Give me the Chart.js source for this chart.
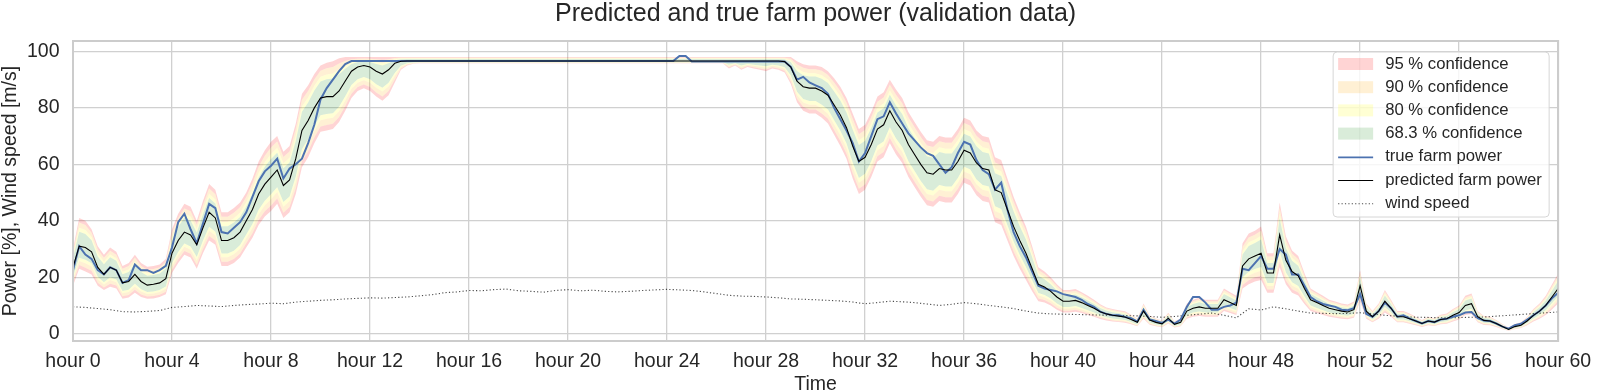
<!DOCTYPE html>
<html>
<head>
<meta charset="utf-8">
<script src="https://cdn.jsdelivr.net/npm/chart.js@4/dist/chart.umd.min.js"></script>
<style>
html,body{margin:0;padding:0;background:#ffffff;}
#wrap{width:1600px;height:392px;}
</style>
</head>
<body>
<div id="wrap"><canvas id="c" width="1600" height="392"></canvas></div>
<script>
// ---- time axis (hours), one reading every quarter hour ----
const hours = Array.from({length: 241}, (_, i) => i / 4);
const windHours = Array.from({length: 121}, (_, i) => i / 2);
const tickHours = [0, 4, 8, 12, 16, 20, 24, 28, 32, 36, 40, 44, 48, 52, 56, 60];
const tickLabels = tickHours.map(h => 'hour ' + h);
const yTicks = [0, 20, 40, 60, 80, 100];

// ---- true farm power [%] ----
const truePower = [
  22.5, 31, 28, 26.5,
  22.5, 21, 23.5, 22.5,
  18, 19, 24.5, 22.5,
  22.5, 21.5, 22.5, 24,
  30.5, 39.5, 42.5, 37,
  32, 39, 46, 44.5,
  36, 35.5, 37.5, 39.5,
  43, 48.5, 54, 57.5,
  59.5, 62, 55, 58.5,
  60, 62, 67.5, 74,
  83, 87, 90, 93,
  95.5, 96.6, 96.6, 96.6,
  96.6, 96.6, 96.6, 96.6,
  96.6, 96.6, 96.6, 96.6,
  96.6, 96.6, 96.6, 96.6,
  96.6, 96.6, 96.6, 96.6,
  96.6, 96.6, 96.6, 96.6,
  96.6, 96.6, 96.6, 96.6,
  96.6, 96.6, 96.6, 96.6,
  96.6, 96.6, 96.6, 96.6,
  96.6, 96.6, 96.6, 96.6,
  96.6, 96.6, 96.6, 96.6,
  96.6, 96.6, 96.6, 96.6,
  96.6, 96.6, 96.6, 96.6,
  96.6, 96.6, 98.4, 98.4,
  96.4, 96.4, 96.4, 96.4,
  96.4, 96.4, 96.4, 96.4,
  96.4, 96.4, 96.4, 96.4,
  96.4, 96.4, 96.4, 96.4,
  94.5, 90, 91, 89,
  88, 87, 85, 80,
  76, 72, 67.5, 61,
  64, 70, 76, 77,
  82, 78, 74.5, 71,
  68.5, 66, 64, 63,
  60, 57, 59, 64,
  68, 67, 61.5, 58,
  56.5, 51, 53.5, 44,
  36, 31, 27, 22,
  17, 16, 15.5, 15,
  14, 13.5, 13, 12,
  10.5, 9.5, 7.8, 7,
  6.5, 6.5, 5.9, 5.5,
  4.3, 8.5, 5, 4.5,
  3.8, 5, 3.6, 5,
  9.5, 13, 13, 11,
  8.5, 8.5, 9.5, 10,
  11, 23, 22.5, 25,
  27.5, 23, 23, 30,
  28, 21, 21, 17,
  13, 11.5, 10.5, 10,
  9.5, 8.5, 8.3, 9,
  14, 7, 6, 8,
  11, 9, 6, 6.5,
  5.3, 4.5, 3.6, 4.5,
  4.1, 5, 5.3, 6,
  6.5, 7.5, 7.7, 5.5,
  4.7, 4.5, 3.6, 2.5,
  1.8, 3, 3.5, 5,
  6.5, 8, 10, 12.5,
  14.5
];

// ---- predicted farm power [%] ----
const predPower = [
  23.5, 31, 30.5, 29,
  23.5, 21, 23.5, 22.5,
  18, 18.5, 21, 18.5,
  17.2, 17.5, 18, 19.5,
  28.5, 33, 36, 35,
  31.5, 37.5, 43, 41,
  33, 33, 34, 36,
  40, 44, 49.5, 53,
  55.5, 58, 52.5, 54.5,
  62, 72, 75.5, 80,
  83.5, 84, 84, 86,
  89.5, 93, 94.5, 95,
  94.5, 93, 92, 93.5,
  95.8, 96.5, 96.6, 96.6,
  96.6, 96.6, 96.6, 96.6,
  96.6, 96.6, 96.6, 96.6,
  96.6, 96.6, 96.6, 96.6,
  96.6, 96.6, 96.6, 96.6,
  96.6, 96.6, 96.6, 96.6,
  96.6, 96.6, 96.6, 96.6,
  96.6, 96.6, 96.6, 96.6,
  96.6, 96.6, 96.6, 96.6,
  96.6, 96.6, 96.6, 96.6,
  96.6, 96.6, 96.6, 96.6,
  96.6, 96.6, 96.6, 96.6,
  96.6, 96.6, 96.6, 96.6,
  96.6, 96.6, 96.6, 96.6,
  96.6, 96.6, 96.6, 96.6,
  96.6, 96.6, 96.6, 96.4,
  94.5, 89.5, 87.5, 87,
  87, 86, 84.5, 81,
  77.5, 73, 66.5, 61,
  62.5, 67, 72.5, 74,
  79, 75, 72, 67,
  63.5, 60, 57, 56.5,
  58.5, 58, 58, 61,
  65, 64, 60.5, 58.5,
  58, 51, 50, 44,
  38, 33, 28.5, 23,
  17.5, 16.5, 15, 13,
  11.5, 11.5, 11.8, 11,
  10, 9, 7.8, 7,
  6.5, 6.2, 5.9, 5,
  4, 8, 4.8, 4,
  3.5, 5.5, 3.3, 4,
  8, 9, 9.5, 9,
  9, 9, 12, 11,
  10, 24, 26.5, 27.5,
  28.5, 21.5, 21.5, 35,
  26, 22, 20.5, 16,
  12, 11, 10, 9,
  8.5, 8, 7.7, 8.5,
  17, 8, 6, 8,
  11.5, 9, 6, 6,
  5.3, 4.5, 3.6, 4.5,
  4.1, 5, 5.3, 6.5,
  7.5, 10, 10.6, 6,
  4.7, 4.5, 3.6, 2.5,
  1.5, 2.5, 3, 4.5,
  6.5, 8, 10, 13,
  16
];

// ---- 95 % confidence band, lower and upper edge [%] ----
const lower95 = [
  17, 23, 22, 21,
  17, 15.5, 16.6, 16,
  12.4, 12.8, 14.5, 13,
  12.4, 12.5, 13, 14,
  21.5, 25, 28, 27,
  23, 28.5, 33, 31.5,
  24, 24, 25, 27,
  30.5, 34, 38.5, 41.5,
  43.5, 46, 41, 43,
  49.5, 59, 62.5, 67.5,
  71.5, 72, 72.5, 75,
  79, 83.5, 86, 87,
  86, 84, 82.5, 84.5,
  89, 93.5, 95, 95.6,
  95.8, 95.8, 95.8, 95.8,
  95.8, 95.8, 95.8, 95.8,
  95.8, 95.8, 95.8, 95.8,
  95.8, 95.8, 95.8, 95.8,
  95.8, 95.8, 95.8, 95.8,
  95.8, 95.8, 95.8, 95.8,
  95.8, 95.8, 95.8, 95.8,
  95.8, 95.8, 95.8, 95.8,
  95.8, 95.8, 95.8, 95.8,
  95.8, 95.8, 95.8, 95.8,
  95.8, 95.8, 95.8, 95.8,
  95.8, 95.8, 95.8, 95.8,
  95.8, 95.8, 94, 95,
  93.5, 94.5, 94, 93.5,
  93, 94, 93.5, 92.5,
  88.5, 82, 79, 78,
  78, 76.5, 74.5, 70.5,
  66.5, 62, 55, 49.5,
  51, 55.5, 61, 62.5,
  67.5, 63.5, 60.5, 55.5,
  52, 48.5, 45.5, 45,
  47, 46.5, 46.5, 49.5,
  53.5, 52.5, 49, 47,
  46.5, 39.5, 38.5, 33,
  27.5, 23, 19, 15,
  11.5, 11, 10, 8.5,
  7.5, 7.5, 7.8, 7.3,
  6.6, 6, 5.2, 4.7,
  4.3, 4.1, 3.9, 3.3,
  2.6, 5.3, 3.2, 2.6,
  2.3, 3.6, 2.2, 2.6,
  5.3, 6, 6.3, 6,
  6, 6, 8, 7.3,
  6.6, 16, 17.5, 18.5,
  19, 14.5, 14.5, 23.5,
  17.5, 14.5, 13.5, 10.5,
  8, 7.3, 6.6, 6,
  5.6, 5.3, 5.1, 5.6,
  11.5, 5.3, 4, 5.3,
  7.5, 6, 4, 4,
  3.5, 3, 2.4, 3,
  2.7, 3.3, 3.5, 4.3,
  5, 6.6, 7, 4,
  3.1, 3, 2.4, 1.6,
  1, 1.6, 2, 3,
  4.3, 5.3, 6.6, 8.6,
  10.7
];
const upper95 = [
  30, 41, 40, 37,
  31, 28, 30.5, 29,
  24, 25, 28, 25,
  23.7, 24, 24.5, 26.5,
  37, 42.5, 46, 45,
  40, 47, 53, 51,
  43, 43, 44.5, 46.5,
  50, 55, 61, 65,
  68, 70, 64.5, 66.5,
  74.5, 85, 88, 92,
  95, 96, 96.5, 97.6,
  98, 98, 98, 98,
  98, 98, 98, 98,
  98, 98, 98, 98,
  98, 98, 98, 98,
  98, 98, 98, 98,
  98, 98, 98, 98,
  98, 98, 98, 98,
  98, 98, 98, 98,
  98, 98, 98, 98,
  98, 98, 98, 98,
  98, 98, 98, 98,
  98, 98, 98, 98,
  98, 98, 98, 98,
  98, 98, 98, 98,
  98, 98, 98, 98,
  98, 98, 98, 98,
  98, 98, 98, 98,
  98, 98, 98, 98,
  98, 96.5, 95.5, 95,
  95, 94.5, 93, 90.5,
  87.5, 83.5, 78, 72.5,
  74, 78.5, 84, 85.5,
  90, 86.5, 83.5, 78.5,
  75, 71.5, 68.5, 68,
  70, 69.5, 69.5, 72.5,
  76.5, 75.5, 72, 70,
  69.5, 62.5, 61.5, 55,
  48.5, 43, 38, 31,
  23.5, 22, 20, 17.5,
  15.5, 15.5, 15.8, 14.7,
  13.4, 12, 10.4, 9.3,
  8.7, 8.3, 7.9, 6.7,
  5.4, 10.7, 6.4, 5.4,
  4.7, 7.4, 4.4, 5.4,
  10.7, 12, 12.7, 12,
  12, 12, 16, 14.7,
  13.4, 32, 35.5, 36.5,
  38, 28.5, 28.5, 46.5,
  34.5, 29.5, 27.5, 21.5,
  16, 14.7, 13.4, 12,
  11.4, 10.7, 10.3, 11.4,
  22.5, 10.7, 8, 10.7,
  15.5, 12, 8, 8,
  7.1, 6, 4.8, 6,
  5.5, 6.7, 7.1, 8.7,
  10, 13.4, 14.2, 8,
  6.3, 6, 4.8, 3.4,
  2.2, 3.4, 4, 6,
  8.7, 10.7, 13.4, 17.4,
  21.3
];

// ---- wind speed [m/s], one reading every half hour ----
const windSpeed = [
  9.5, 9.3, 8.9, 8.5, 7.8, 7.7, 7.9, 8.2, 9.3, 9.6,
  10, 9.8, 9.6, 10, 10.3, 10.5, 10.8, 10.6, 11.2, 11.5,
  11.8, 12, 12.3, 12.5, 12.7, 12.6, 12.8, 13, 13.4, 13.8,
  14.5, 14.8, 15.3, 15.2, 15.6, 15.8, 15.2, 15, 14.7, 15.3,
  15.6, 15.2, 15.4, 15, 14.8, 15, 15.3, 15.5, 15.7, 15.5,
  15.3, 14.8, 14.2, 13.6, 13.3, 13.2, 13, 12.7, 12.3, 12.2,
  12, 11.8, 11.6, 11.2, 10.6, 11, 11.5, 11.3, 11, 10.5,
  10, 10.4, 11, 10.6, 10, 9.5, 8.9, 8, 7.3, 7,
  6.9, 6.8, 6.7, 6.6, 6.5, 6.4, 6.3, 6.1, 5.8, 6.1,
  6.5, 6.9, 7.3, 6.5, 5.6, 8.8, 8.4, 9.5, 8.8, 8,
  7.3, 7.2, 7.1, 7.2, 7.4, 7, 6.5, 6.2, 5.9, 5.8,
  5.7, 5.6, 5.7, 5.8, 5.9, 6.2, 6.5, 6.8, 7.1, 7.4,
  7.7
];

// ---- confidence levels (two-sided normal quantiles) ----
const bandLabels = ['95 % confidence', '90 % confidence', '80 % confidence', '68.3 % confidence'];
const bandZ = [1.96, 1.645, 1.2816, 1.0];
const bandColors = ['rgba(255,0,0,0.17)', 'rgba(255,165,0,0.17)', 'rgba(255,255,0,0.17)', 'rgba(0,128,0,0.15)'];

const BLUE = '#4c72b0';
const WIND = 'rgba(30,30,30,0.8)';
const TXT = '#262626';
const FONT = "'Liberation Sans', Arial, Helvetica, sans-serif";

const pts = (xs, ys) => xs.map((x, i) => ({x: x, y: ys[i]}));
const edge = (arr, z) => predPower.map((p, i) => p + (arr[i] - p) * z / bandZ[0]);

const lowers = bandZ.map(z => edge(lower95, z));
const uppers = bandZ.map(z => edge(upper95, z));

const base = {pointRadius: 0, pointHoverRadius: 0, tension: 0, borderWidth: 0, borderColor: 'rgba(0,0,0,0)'};
const datasets = [
  {label: 'predicted farm power', data: pts(hours, predPower), borderColor: '#000000', borderWidth: 1.1, pointRadius: 0, tension: 0, fill: false},
  {label: 'true farm power', data: pts(hours, truePower), borderColor: BLUE, borderWidth: 2, pointRadius: 0, tension: 0, fill: false},
  {label: 'wind speed', data: pts(windHours, windSpeed), borderColor: WIND, borderWidth: 1.1, borderDash: [1.2, 2.2], pointRadius: 0, tension: 0, fill: false},
  Object.assign({label: 'lo95', data: pts(hours, lowers[0]), fill: false}, base),
  Object.assign({label: 'lo90', data: pts(hours, lowers[1]), fill: '-1', backgroundColor: bandColors[0]}, base),
  Object.assign({label: 'lo80', data: pts(hours, lowers[2]), fill: '-1', backgroundColor: bandColors[1]}, base),
  Object.assign({label: 'lo68', data: pts(hours, lowers[3]), fill: '-1', backgroundColor: bandColors[2]}, base),
  Object.assign({label: 'hi68', data: pts(hours, uppers[3]), fill: '-1', backgroundColor: bandColors[3]}, base),
  Object.assign({label: 'hi80', data: pts(hours, uppers[2]), fill: '-1', backgroundColor: bandColors[2]}, base),
  Object.assign({label: 'hi90', data: pts(hours, uppers[1]), fill: '-1', backgroundColor: bandColors[1]}, base),
  Object.assign({label: 'hi95', data: pts(hours, uppers[0]), fill: '-1', backgroundColor: bandColors[0]}, base)
];

const legendItems = [
  {kind: 'patch', label: bandLabels[0], color: bandColors[0]},
  {kind: 'patch', label: bandLabels[1], color: bandColors[1]},
  {kind: 'patch', label: bandLabels[2], color: bandColors[2]},
  {kind: 'patch', label: bandLabels[3], color: bandColors[3]},
  {kind: 'line', label: 'true farm power', color: BLUE, width: 1.7},
  {kind: 'line', label: 'predicted farm power', color: '#000000', width: 1.1},
  {kind: 'dots', label: 'wind speed', color: WIND, width: 1.1}
];

const framePlugin = {
  id: 'frameAndLegend',
  afterDatasetsDraw(chart) {
    const ctx = chart.ctx, a = chart.chartArea;
    ctx.save();
    ctx.strokeStyle = '#cccccc';
    ctx.lineWidth = 2;
    ctx.strokeRect(a.left, a.top, a.right - a.left, a.bottom - a.top);

    // legend box (inside upper right of the plot)
    const bx = a.right - 225, by = a.top + 11, bw = 216, bh = 165, r = 4;
    ctx.beginPath();
    ctx.moveTo(bx + r, by);
    ctx.arcTo(bx + bw, by, bx + bw, by + bh, r);
    ctx.arcTo(bx + bw, by + bh, bx, by + bh, r);
    ctx.arcTo(bx, by + bh, bx, by, r);
    ctx.arcTo(bx, by, bx + bw, by, r);
    ctx.closePath();
    ctx.fillStyle = 'rgba(255,255,255,0.8)';
    ctx.fill();
    ctx.strokeStyle = '#d6d6d6';
    ctx.lineWidth = 1;
    ctx.stroke();

    ctx.font = '16.7px ' + FONT;
    ctx.textBaseline = 'middle';
    ctx.textAlign = 'left';
    legendItems.forEach((it, i) => {
      const y = by + 12 + i * 23.2;
      const x0 = bx + 5, x1 = bx + 40;
      if (it.kind === 'patch') {
        ctx.fillStyle = it.color;
        ctx.fillRect(x0, y - 6, x1 - x0, 12);
      } else {
        ctx.beginPath();
        ctx.setLineDash(it.kind === 'dots' ? [1.2, 2.2] : []);
        ctx.strokeStyle = it.color;
        ctx.lineWidth = it.width;
        ctx.moveTo(x0, y + 0.5);
        ctx.lineTo(x1, y + 0.5);
        ctx.stroke();
        ctx.setLineDash([]);
      }
      ctx.fillStyle = TXT;
      ctx.fillText(it.label, bx + 52, y);
    });
    ctx.restore();
  }
};

new Chart(document.getElementById('c'), {
  type: 'line',
  data: {datasets: datasets},
  plugins: [framePlugin],
  options: {
    responsive: false,
    animation: false,
    devicePixelRatio: 1,
    layout: {padding: {left: 0, right: 36, top: 0, bottom: 0}},
    plugins: {
      legend: {display: false},
      tooltip: {enabled: false},
      title: {
        display: true,
        fullSize: false,
        text: 'Predicted and true farm power (validation data)',
        color: TXT,
        font: {family: FONT, size: 25, weight: 'normal', lineHeight: 1},
        padding: {top: 1.5, bottom: 14.5}
      }
    },
    scales: {
      x: {
        type: 'linear',
        min: 0, max: 60,
        afterFit(s) { s.height = 51; },
        afterBuildTicks(s) { s.ticks = tickHours.map(v => ({value: v})); },
        grid: {color: '#d0d0d0', lineWidth: 1.3, drawTicks: false},
        border: {display: false},
        ticks: {
          callback: (v) => tickLabels[tickHours.indexOf(v)],
          maxRotation: 0, autoSkip: false, padding: 8.8,
          color: TXT, font: {family: FONT, size: 19.5}
        },
        title: {display: true, text: 'Time', color: TXT, font: {family: FONT, size: 19.5, lineHeight: 1}, padding: {top: 0, bottom: -2}}
      },
      y: {
        type: 'linear',
        min: -2.6, max: 103.7,
        afterFit(s) { s.width = 73; },
        afterBuildTicks(s) { s.ticks = yTicks.map(v => ({value: v})); },
        grid: {color: '#d0d0d0', lineWidth: 1.3, drawTicks: false},
        border: {display: false},
        ticks: {padding: 13.5, color: TXT, font: {family: FONT, size: 19.5}},
        title: {display: true, text: 'Power [%], Wind speed [m/s]', color: TXT, font: {family: FONT, size: 19.5, lineHeight: 1}, padding: {top: 0.5, bottom: 0}}
      }
    }
  }
});
</script>
</body>
</html>
